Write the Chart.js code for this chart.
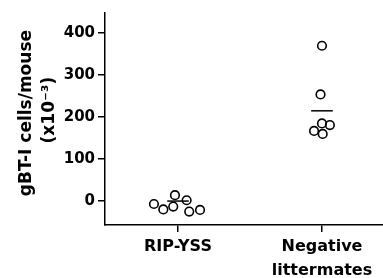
<!DOCTYPE html>
<html>
<head>
<meta charset="utf-8">
<script src="https://cdn.jsdelivr.net/npm/chart.js@4/dist/chart.umd.min.js"></script>
<style>
    body { margin: 0; background: #fff; }
    #wrap { width: 383px; height: 278px; }
</style>
</head>
<body>
<div id="wrap"><canvas id="gbt-chart" width="383" height="278"></canvas></div>
<script>
const categories = ['RIP-YSS', ['Negative', 'littermates']]
const yTicks = [0, 100, 200, 300, 400]

// cells per mouse (x10^-3), one value per mouse
const ripYssCells = [-7, -20, -13, 14, 2, -25, -21]
const negativeCells = [370, 254, 185, 181, 167, 160]
// horizontal scatter of each dot around its group
const ripYssJitter = [-0.167, -0.102, -0.033, -0.021, 0.06, 0.078, 0.153]
const negativeJitter = [0, -0.01, 0, 0.055, -0.055, 0.005]
const groupMeans = [0, 215]

const gbt_chart = () => {
    const ctx = document.getElementById('gbt-chart')
    const font = 'DejaVu Sans'

    const dots = (values, jitter, group) => values.map((v, i) => ({ x: group + jitter[i], y: v }))
    const meanLine = (group) => [
        { x: group - 0.075, y: groupMeans[group - 1] },
        { x: group + 0.075, y: groupMeans[group - 1] },
    ]

    const dotStyle = {
        type: 'scatter',
        pointStyle: 'circle',
        pointRadius: 4.3,
        pointBorderWidth: 1.6,
        pointBorderColor: '#000',
        pointBackgroundColor: 'rgba(0,0,0,0)',
        showLine: false,
    }
    const lineStyle = {
        type: 'line',
        borderColor: '#000',
        borderWidth: 1.5,
        pointRadius: 0,
        fill: false,
    }

    new Chart(ctx, {
        data: {
            datasets: [
                { ...lineStyle, label: 'mean RIP-YSS', data: meanLine(1) },
                { ...lineStyle, label: 'mean negative', data: meanLine(2) },
                { ...dotStyle, label: 'RIP-YSS', data: dots(ripYssCells, ripYssJitter, 1) },
                { ...dotStyle, label: 'Negative littermates', data: dots(negativeCells, negativeJitter, 2) },
            ],
        },
        options: {
            responsive: false,
            animation: false,
            layout: { autoPadding: false, padding: { top: 13, right: 0, left: 0, bottom: 0 } },
            plugins: {
                legend: { display: false },
                tooltip: { enabled: false },
            },
            scales: {
                x: {
                    type: 'linear',
                    min: 0.493,
                    max: 2.424,
                    afterBuildTicks: (scale) => { scale.ticks = [{ value: 1 }, { value: 2 }] },
                    afterFit: (scale) => {
                        scale.height = 53
                        scale.paddingLeft = 0
                        scale.paddingRight = 0
                    },
                    border: { display: true, color: '#000', width: 1.5 },
                    grid: { drawOnChartArea: false, drawTicks: true, tickLength: 7, color: '#000', lineWidth: 1.5 },
                    ticks: {
                        autoSkip: false,
                        maxRotation: 0,
                        padding: 3,
                        color: '#000',
                        font: { family: font, size: 16, weight: 'bold', lineHeight: 1.5 },
                        callback: (value) => categories[value - 1],
                    },
                },
                y: {
                    min: -57,
                    max: 448,
                    afterBuildTicks: (scale) => { scale.ticks = yTicks.map(v => ({ value: v })) },
                    afterFit: (scale) => { scale.width = 105 },
                    border: { display: true, color: '#000', width: 1.5 },
                    grid: { drawOnChartArea: false, drawTicks: true, tickLength: 7, color: '#000', lineWidth: 1.5 },
                    ticks: {
                        padding: 3,
                        color: '#000',
                        font: { family: font, size: 15, weight: 'bold' },
                    },
                    title: {
                        display: true,
                        // leading spaces nudge the centred title up a little
                        text: ['  gBT-I cells/mouse', '   (x10\u207B\u00B3)'],
                        color: '#000',
                        padding: { top: 15, bottom: 0 },
                        font: { family: font, size: 17, weight: 'bold', lineHeight: 1.35 },
                    },
                },
            },
        },
    })
}

gbt_chart()
</script>
</body>
</html>
